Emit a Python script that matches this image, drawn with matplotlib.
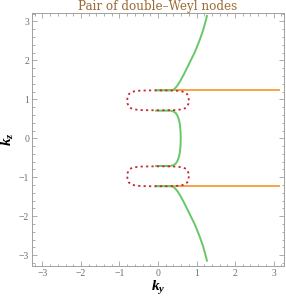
import numpy as np
import matplotlib
matplotlib.use("Agg")
import matplotlib.pyplot as plt
from matplotlib.ticker import MultipleLocator

plt.rcParams['font.family'] = ['Liberation Serif', 'DejaVu Serif']
plt.rcParams['mathtext.fontset'] = 'custom'
plt.rcParams['mathtext.it'] = 'Liberation Serif:italic:bold'
plt.rcParams['mathtext.rm'] = 'Liberation Serif:bold'

# green curves (ky, kz)
green_up_ky = [-0.05, 0.35, 0.42, 0.50, 0.57, 0.66, 0.75, 0.85, 0.95, 1.00, 1.08, 1.17, 1.22, 1.27]
green_up_kz = [1.23, 1.23, 1.26, 1.35, 1.46, 1.62, 1.80, 2.00, 2.20, 2.32, 2.52, 2.77, 2.95, 3.14]
green_mid_ky = [-0.05, 0.33, 0.40, 0.46, 0.51, 0.545, 0.57, 0.585, 0.59,
                0.585, 0.57, 0.545, 0.51, 0.46, 0.40, 0.33, -0.05]
green_mid_kz = [0.71, 0.71, 0.69, 0.65, 0.57, 0.47, 0.34, 0.18, 0.0,
                -0.18, -0.34, -0.47, -0.57, -0.65, -0.69, -0.71, -0.71]
green_lo_ky = [-0.05, 0.35, 0.42, 0.50, 0.57, 0.66, 0.75, 0.85, 0.95, 1.00, 1.08, 1.17, 1.22, 1.27]
green_lo_kz = [-1.23, -1.23, -1.26, -1.35, -1.46, -1.62, -1.80, -2.00, -2.20, -2.32, -2.52, -2.77, -2.95, -3.14]

# orange lines
orange_ky = [-0.05, 3.14]
orange_up_kz = [1.23, 1.23]
orange_lo_kz = [-1.23, -1.23]

# red dotted loops around the nodes
loop_ky = [0.80, 0.79, 0.76, 0.70, 0.60, 0.45, 0.20, 0.0, -0.20, -0.45, -0.60, -0.70, -0.76, -0.79,
           -0.80, -0.79, -0.76, -0.70, -0.60, -0.45, -0.20, 0.0, 0.20, 0.45, 0.60, 0.70, 0.76, 0.79, 0.80]
loop_up_kz = [0.975, 1.06, 1.13, 1.18, 1.21, 1.225, 1.23, 1.23, 1.23, 1.225, 1.21, 1.18, 1.13, 1.06,
              0.975, 0.89, 0.82, 0.77, 0.74, 0.725, 0.72, 0.72, 0.72, 0.725, 0.74, 0.77, 0.82, 0.89, 0.975]
loop_lo_kz = [-0.975, -1.06, -1.13, -1.18, -1.21, -1.225, -1.23, -1.23, -1.23, -1.225, -1.21, -1.18, -1.13, -1.06,
              -0.975, -0.89, -0.82, -0.77, -0.74, -0.725, -0.72, -0.72, -0.72, -0.725, -0.74, -0.77, -0.82, -0.89, -0.975]

ticks = [-3, -2, -1, 0, 1, 2, 3]
tick_labels = ['\u22123', '\u22122', '\u22121', '0', '1', '2', '3']

green = '#66c866'
orange = '#f7a445'
red = '#c42a2f'

fig = plt.figure(figsize=(2.86, 2.99), dpi=100)
ax = fig.add_axes([0.112, 0.110, 0.881, 0.847])

ax.plot(orange_ky, orange_up_kz, color=orange, lw=1.4)
ax.plot(orange_ky, orange_lo_kz, color=orange, lw=1.4)
ax.plot(green_up_ky, green_up_kz, color=green, lw=1.4)
ax.plot(green_mid_ky, green_mid_kz, color=green, lw=1.4)
ax.plot(green_lo_ky, green_lo_kz, color=green, lw=1.4)
ax.plot(loop_ky, loop_up_kz, color=red, lw=1.3, linestyle=(0, (1.2, 1.8)))
ax.plot(loop_ky, loop_lo_kz, color=red, lw=1.3, linestyle=(0, (1.2, 1.8)))

ax.set_xlim(-3.27, 3.27)
ax.set_ylim(-3.28, 3.22)
ax.set_xticks(ticks)
ax.set_yticks(ticks)
ax.set_xticklabels(tick_labels)
ax.set_yticklabels(tick_labels)
ax.xaxis.set_minor_locator(MultipleLocator(0.2))
ax.yaxis.set_minor_locator(MultipleLocator(0.2))
ax.tick_params(which='both', direction='in', top=True, right=True, colors='#a0a0a0',
               labelcolor='#707070', labelsize=7, width=0.6, pad=2)
ax.tick_params(which='major', length=3.5)
ax.tick_params(which='minor', length=1.8)
for s in ax.spines.values():
    s.set_color('#a0a0a0')
    s.set_linewidth(0.7)

ax.set_xlabel('$k_y$', fontsize=11, labelpad=1)
ax.set_ylabel('$k_z$', fontsize=11, labelpad=2)
ax.set_title('Pair of double\u2013Weyl nodes', fontsize=8.6, color='#9c6b35', pad=2,
             family=['DejaVu Serif'])

fig.savefig('out.png', dpi=100)
